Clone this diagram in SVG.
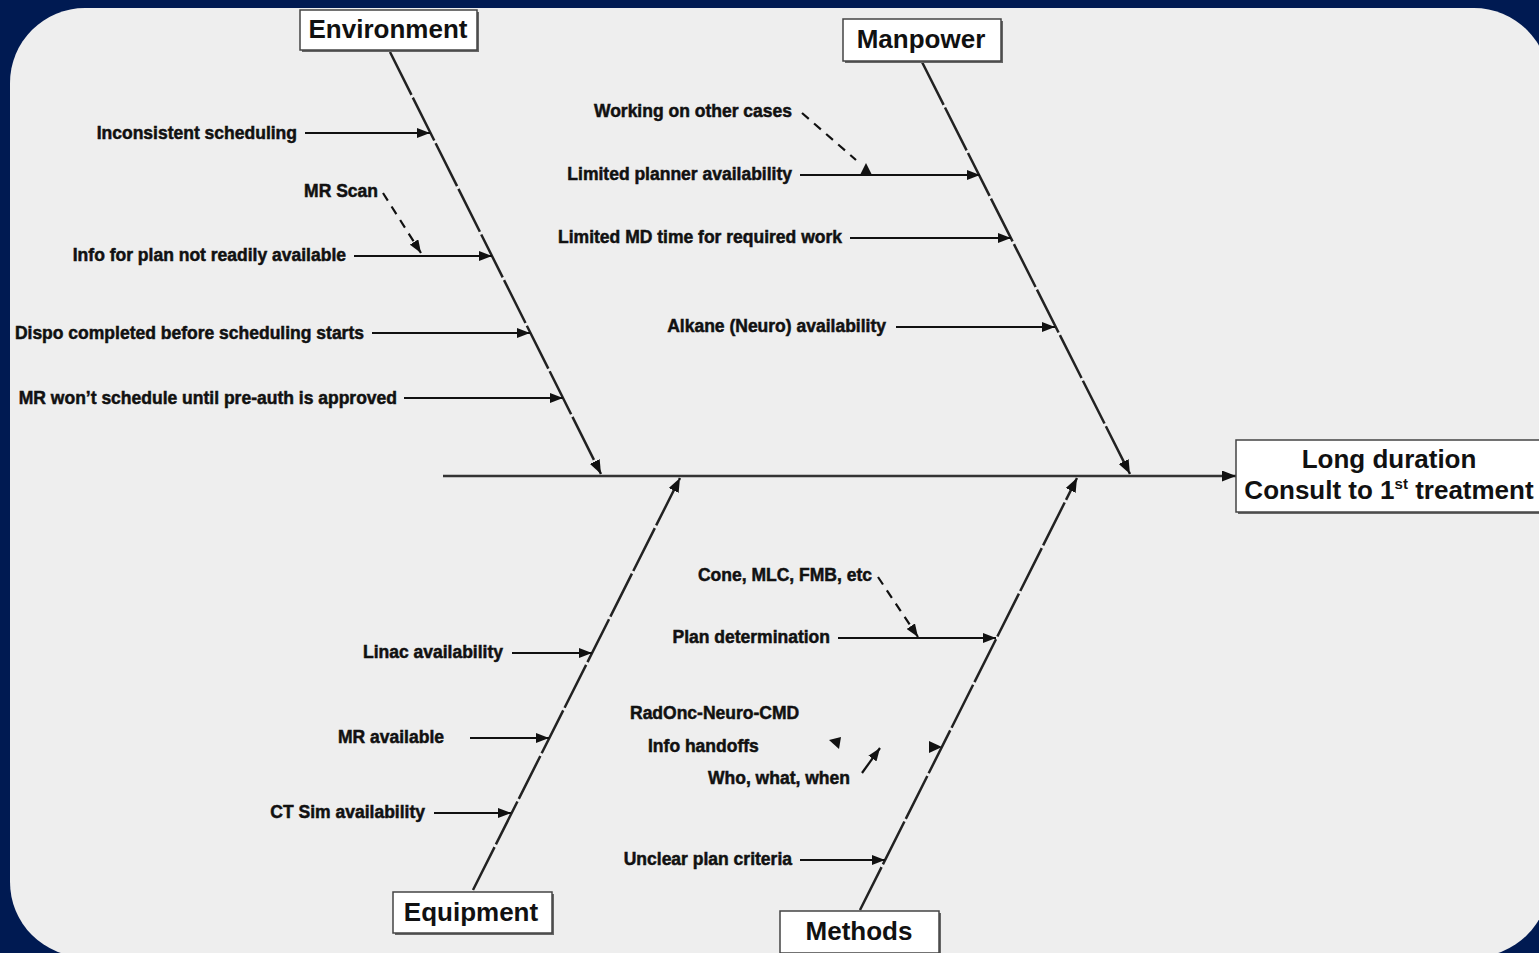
<svg xmlns="http://www.w3.org/2000/svg" width="1539" height="953" viewBox="0 0 1539 953">
<style>
.lbl{font-family:"Liberation Sans",Arial,sans-serif;font-weight:bold;font-size:17.5px;fill:#111;stroke:#111;stroke-width:0.5}
.cat{font-family:"Liberation Sans",Arial,sans-serif;font-weight:bold;font-size:26px;fill:#111;text-anchor:middle}
.box{fill:#fff;stroke:#444;stroke-width:1.5}
.shd{fill:#666}
.bone{stroke:#222;stroke-width:2.5;fill:none;stroke-dasharray:48 3}
.arr{stroke:#111;stroke-width:2.2;fill:none;marker-end:url(#ah)}
.dash{stroke:#111;stroke-width:2.2;fill:none;stroke-dasharray:9 7}
.tri{fill:#111}
</style>
<defs>
<marker id="ah" viewBox="0 0 13 10" refX="13" refY="5" markerWidth="13" markerHeight="10" markerUnits="userSpaceOnUse" orient="auto">
<path d="M0,0 L13,5 L0,10 z" fill="#111"/>
</marker>
<marker id="ahb" viewBox="0 0 14 11" refX="14" refY="5.5" markerWidth="14" markerHeight="11" markerUnits="userSpaceOnUse" orient="auto">
<path d="M0,0 L14,5.5 L0,11 z" fill="#111"/>
</marker>
</defs>
<rect x="0" y="0" width="1539" height="953" fill="#001a52"/>
<rect x="10" y="8" width="1539" height="949" rx="75" ry="75" fill="#eeeeee"/>

<g id="connectors">
<line x1="443" y1="476" x2="1236" y2="476" stroke="#333" stroke-width="2.5" marker-end="url(#ahb)"/>
<line class="bone" x1="390" y1="52" x2="601" y2="474" marker-end="url(#ahb)"/>
<line class="bone" x1="922" y1="62" x2="1130" y2="474" marker-end="url(#ahb)"/>
<line class="bone" x1="473" y1="890" x2="680" y2="478" marker-end="url(#ahb)"/>
<line class="bone" x1="860" y1="910" x2="1077" y2="478" marker-end="url(#ahb)"/>

<line class="arr" x1="305" y1="133" x2="430" y2="133"/>
<line class="arr" x1="354" y1="256" x2="492" y2="256"/>
<line class="arr" x1="372" y1="333" x2="530" y2="333"/>
<line class="arr" x1="404" y1="398" x2="563" y2="398"/>
<line class="dash" x1="383" y1="193" x2="421" y2="253" style="marker-end:url(#ah)"/>

<line class="arr" x1="800" y1="175" x2="980" y2="175"/>
<line class="arr" x1="850" y1="238" x2="1011" y2="238"/>
<line class="arr" x1="896" y1="327" x2="1055" y2="327"/>
<line class="dash" x1="802" y1="113" x2="856" y2="160"/>
<polygon class="tri" points="860,175 872,175 866,163"/>

<line class="arr" x1="512" y1="653" x2="592" y2="653"/>
<line class="arr" x1="470" y1="738" x2="549" y2="738"/>
<line class="arr" x1="434" y1="813" x2="511" y2="813"/>

<line class="arr" x1="838" y1="638" x2="996" y2="638"/>
<line class="arr" x1="800" y1="860" x2="885" y2="860"/>
<line class="dash" x1="878" y1="577" x2="918" y2="637" style="marker-end:url(#ah)"/>
<line class="arr" x1="862" y1="773" x2="880" y2="748"/>
<polygon class="tri" points="829,740 841,737 839,749"/>
<polygon class="tri" points="929,741 942,747 929,753"/>
</g>

<g id="effect">
<rect class="shd" x="1238" y="442" width="310" height="72"/>
<rect class="box" x="1236" y="440" width="310" height="72"/>
<text class="cat" x="1389" y="468">Long duration</text>
<text class="cat" x="1389" y="499">Consult to 1<tspan font-size="15" dy="-10">st</tspan><tspan dy="10"> treatment</tspan></text>
</g>

<g id="environment">
<rect class="shd" x="302" y="12" width="177" height="40"/>
<rect class="box" x="300" y="10" width="177" height="40"/>
<text class="cat" x="388" y="38">Environment</text>
</g>
<g id="manpower">
<rect class="shd" x="845" y="21" width="158" height="42"/>
<rect class="box" x="843" y="19" width="158" height="42"/>
<text class="cat" x="921" y="48">Manpower</text>
</g>
<g id="equipment">
<rect class="shd" x="395" y="894" width="159" height="41"/>
<rect class="box" x="393" y="892" width="159" height="41"/>
<text class="cat" x="471" y="921">Equipment</text>
</g>
<g id="methods">
<rect class="shd" x="782" y="913" width="159" height="42"/>
<rect class="box" x="780" y="911" width="159" height="42"/>
<text class="cat" x="859" y="940">Methods</text>
</g>

<g id="env-causes" text-anchor="end">
<text class="lbl" x="297" y="139">Inconsistent scheduling</text>
<text class="lbl" x="378" y="197">MR Scan</text>
<text class="lbl" x="346" y="261">Info for plan not readily available</text>
<text class="lbl" x="364" y="339">Dispo completed before scheduling starts</text>
<text class="lbl" x="397" y="404">MR won’t schedule until pre-auth is approved</text>
</g>
<g id="man-causes" text-anchor="end">
<text class="lbl" x="792" y="117">Working on other cases</text>
<text class="lbl" x="792" y="180">Limited planner availability</text>
<text class="lbl" x="842" y="243">Limited MD time for required work</text>
<text class="lbl" x="886" y="332">Alkane (Neuro) availability</text>
</g>
<g id="equip-causes" text-anchor="end">
<text class="lbl" x="503" y="658">Linac availability</text>
<text class="lbl" x="444" y="743">MR available</text>
<text class="lbl" x="425" y="818">CT Sim availability</text>
</g>
<g id="method-causes">
<text class="lbl" x="872" y="581" text-anchor="end">Cone, MLC, FMB, etc</text>
<text class="lbl" x="830" y="643" text-anchor="end">Plan determination</text>
<text class="lbl" x="630" y="719">RadOnc-Neuro-CMD</text>
<text class="lbl" x="648" y="752">Info handoffs</text>
<text class="lbl" x="708" y="784">Who, what, when</text>
<text class="lbl" x="792" y="865" text-anchor="end">Unclear plan criteria</text>
</g>
</svg>
